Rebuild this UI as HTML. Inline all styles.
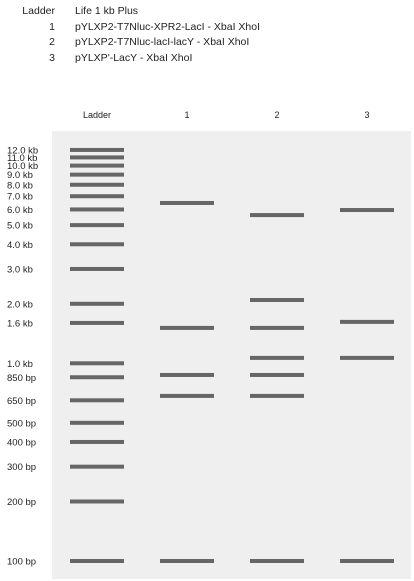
<!DOCTYPE html>
<html><head><meta charset="utf-8"><style>
body{margin:0;background:#fff;font-family:"Liberation Sans",Arial,sans-serif;}
#wrap{position:relative;width:414px;height:581px;overflow:hidden;}
.lg{position:absolute;font-size:10.5px;color:#222;}
</style></head><body>
<div id="wrap">
<div class="lg" style="left:10px;top:5px;width:45px;text-align:right">Ladder</div>
<div class="lg" style="left:75px;top:5px">Life 1 kb Plus</div>
<div class="lg" style="left:10px;top:21px;width:45px;text-align:right">1</div>
<div class="lg" style="left:75px;top:21px">pYLXP2-T7Nluc-XPR2-LacI - XbaI XhoI</div>
<div class="lg" style="left:10px;top:36px;width:45px;text-align:right">2</div>
<div class="lg" style="left:75px;top:36px">pYLXP2-T7Nluc-lacI-lacY - XbaI XhoI</div>
<div class="lg" style="left:10px;top:52px;width:45px;text-align:right">3</div>
<div class="lg" style="left:75px;top:52px">pYLXP'-LacY - XbaI XhoI</div>
<svg id="gel" width="414" height="581" style="position:absolute;left:0;top:0"></svg>
</div>
<script>
const ladderSizes=[12000,11000,10000,9000,8000,7000,6000,5000,4000,3000,2000,1600,1000,850,650,500,400,300,200,100];
const ladderLabels=["12.0 kb","11.0 kb","10.0 kb","9.0 kb","8.0 kb","7.0 kb","6.0 kb","5.0 kb","4.0 kb","3.0 kb","2.0 kb","1.6 kb","1.0 kb","850 bp","650 bp","500 bp","400 bp","300 bp","200 bp","100 bp"];
const laneNames=["Ladder","1","2","3"];
const lane1=[6470,1510,873,684,100];
const lane2=[5620,2090,1510,1065,873,684,100];
const lane3=[5960,1620,1065,100];
const NS="http://www.w3.org/2000/svg";
const svg=document.getElementById('gel');
function y(bp){return 561-197.7*(Math.log10(bp)-2);}
function laneX(i){return 70+i*90;}
function mk(t,a){const e=document.createElementNS(NS,t);for(const k in a)e.setAttribute(k,a[k]);svg.appendChild(e);return e;}
const bg=mk('rect',{x:52,y:131,width:359,height:448,fill:'#efefef'});


laneNames.forEach((n,i)=>{const t=mk('text',{x:laneX(i)+27,y:118,'text-anchor':'middle','font-size':'9','fill':'#222'});t.textContent=n;

});
function band(i,bp){const r=mk('rect',{x:laneX(i),y:y(bp)-2,width:54,height:4,fill:'#666'});

}
ladderSizes.forEach((bp,k)=>{band(0,bp);const t=mk('text',{x:7,y:y(bp)+3.5,'font-size':'9.5','fill':'#222'});t.textContent=ladderLabels[k];

});
lane1.forEach(bp=>band(1,bp));
lane2.forEach(bp=>band(2,bp));
lane3.forEach(bp=>band(3,bp));
</script>
</body></html>
